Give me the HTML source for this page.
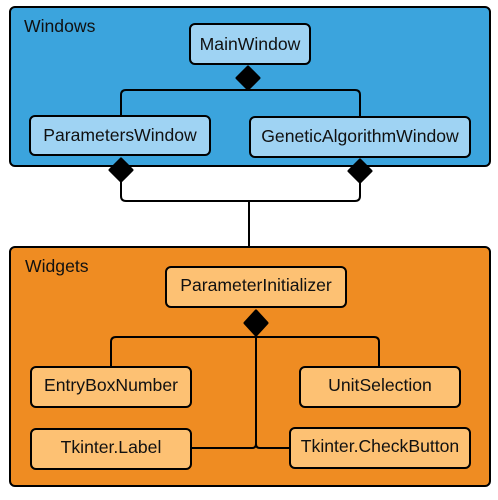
<!DOCTYPE html>
<html><head><meta charset="utf-8"><style>
html,body{margin:0;padding:0;background:#fff;}
svg text{font-family:"Liberation Sans",sans-serif;font-size:17.6px;fill:#111;}
</style></head><body>
<svg width="498" height="495" viewBox="0 0 498 495" xmlns="http://www.w3.org/2000/svg">
<g stroke="#000" stroke-width="2">
<rect x="10" y="7" width="480" height="159" rx="5" fill="#3ba4dd"/>
<rect x="10" y="247" width="480" height="239" rx="5" fill="#ef8c22"/>
</g>
<text x="24" y="32">Windows</text>
<text x="25" y="272">Widgets</text>
<g fill="none" stroke="#000" stroke-width="2">
<path d="M121 116 V95 Q121 90 126 90 H355 Q360 90 360 95 V117"/>
<path d="M121 182 V196 Q121 201 126 201 H355 Q360 201 360 196 V183"/>
<path d="M249 201 V247"/>
<path d="M111 367 V342 Q111 337 116 337 H374 Q379 337 379 342 V367"/>
<path d="M256 336 V444 Q256 448 252 448 H191"/>
<path d="M256 444 Q256 448 260 448 H290"/>
</g>
<g stroke="#000" stroke-width="2" fill="#9fd3f3">
<rect x="190" y="24" width="120" height="40" rx="5"/>
<rect x="30" y="116" width="180" height="39" rx="5"/>
<rect x="250" y="117" width="220" height="40" rx="5"/>
</g>
<g stroke="#000" stroke-width="2" fill="#fdc173">
<rect x="166" y="267" width="180" height="40" rx="5"/>
<rect x="31" y="367" width="160" height="40" rx="5"/>
<rect x="300" y="367" width="160" height="40" rx="5"/>
<rect x="31" y="429" width="160" height="40" rx="5"/>
<rect x="290" y="428" width="180" height="40" rx="5"/>
</g>
<g fill="#000" stroke="#000" stroke-width="3" stroke-linejoin="round">
<path d="M248 67 L259 78 L248 89 L237 78 Z"/>
<path d="M121 159 L132 170 L121 181 L110 170 Z"/>
<path d="M360 160 L371 171 L360 182 L349 171 Z"/>
<path d="M256 311 L267 323 L256 335 L245 323 Z"/>
</g>
<g text-anchor="middle">
<text x="250" y="50">MainWindow</text>
<text x="120" y="141">ParametersWindow</text>
<text x="360" y="142">GeneticAlgorithmWindow</text>
<text x="256" y="291">ParameterInitializer</text>
<text x="111" y="391">EntryBoxNumber</text>
<text x="380" y="391">UnitSelection</text>
<text x="111" y="453">Tkinter.Label</text>
<text x="380" y="452">Tkinter.CheckButton</text>
</g>
</svg>
</body></html>
